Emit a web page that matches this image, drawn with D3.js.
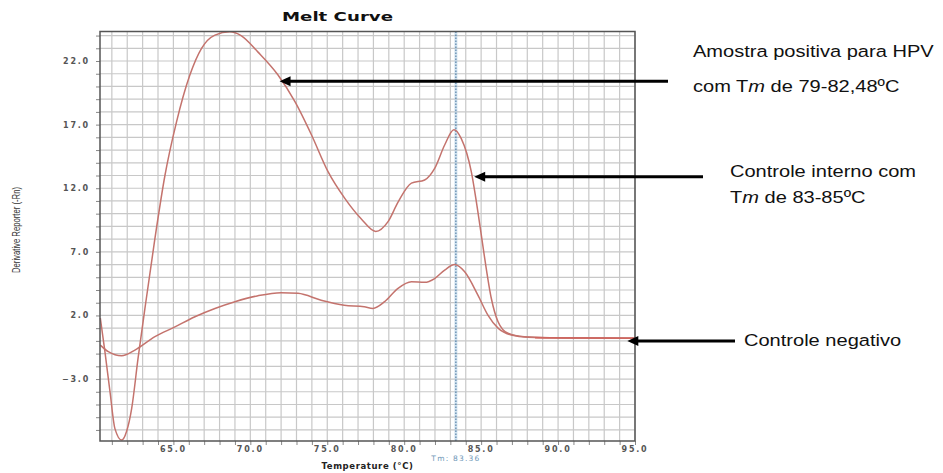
<!DOCTYPE html>
<html>
<head>
<meta charset="utf-8">
<script src="https://cdn.jsdelivr.net/npm/d3@7/dist/d3.min.js"></script>
<style>
  html, body { margin: 0; padding: 0; background: #fff; }
  svg { display: block; }
</style>
</head>
<body>
<svg id="chart" width="943" height="473"></svg>
<script>
// ---------- DATA ----------
const chartTitle = "Melt Curve";
const xAxisTitle = "Temperature (°C)";
const yAxisTitle = "Derivative Reporter (-Rn)";
const xTickValues = [65, 70, 75, 80, 85, 90, 95];
const yTickValues = [22, 17, 12, 7, 2, -3];
const tmValue = 83.36;
const tmLabel = "Tm: 83.36";

// Positive HPV sample
const posTemp  = [60.25, 60.55, 60.88, 61.2, 61.64, 61.96, 62.29, 62.7, 63.15, 63.8, 64.45, 65.2, 66.07, 66.83, 67.7, 68.67, 69.4, 70.5, 71.8, 72.9, 73.97, 75.05, 76.14, 77.2, 78.15, 78.95, 79.6, 80.47, 81.33, 81.98, 82.63, 83.23, 83.71, 84.36, 84.79, 85.23, 85.66, 86.1, 86.74, 87.8, 89.56, 92.0, 95.0];
const posValue = [1.8, -0.85, -4.0, -6.9, -7.8, -7.1, -5.3, -1.4, 2.55, 8.05, 13.0, 17.2, 20.9, 23.0, 24.04, 24.3, 24.0, 22.7, 20.9, 18.8, 16.2, 13.3, 11.2, 9.6, 8.6, 9.37, 10.9, 12.4, 12.65, 13.56, 15.4, 16.6, 15.9, 13.3, 10.15, 6.5, 3.35, 1.5, 0.6, 0.33, 0.25, 0.22, 0.2];

// Internal control
const ctrlTemp  = [60.25, 60.77, 61.64, 62.5, 63.8, 65.1, 66.4, 67.7, 69.0, 70.5, 72.0, 73.1, 74.6, 76.1, 77.4, 77.97, 78.73, 79.6, 80.47, 81.33, 81.98, 82.63, 83.28, 83.93, 84.79, 85.44, 86.1, 86.96, 88.04, 89.56, 92.0, 95.0];
const ctrlValue = [-0.33, -0.85, -1.17, -0.72, 0.33, 1.1, 1.9, 2.55, 3.08, 3.55, 3.79, 3.74, 3.2, 2.8, 2.68, 2.55, 3.08, 4.13, 4.65, 4.6, 4.9, 5.57, 6.0, 5.43, 3.6, 2.03, 1.0, 0.46, 0.28, 0.25, 0.22, 0.2];

// Negative control (flat tail)
const negTemp  = [88.5, 92.0, 95.0];
const negValue = [0.25, 0.22, 0.2];

// Annotations (arrow tip in data units, text lines)
const annotations = [
  { tipX: 71.9, tipY: 20.4, tailPx: 668, textX: 693, lines: [["Amostra positiva para HPV"], ["com T", "m", " de 79-82,48ºC"]], baselines: [57, 92] },
  { tipX: 84.55, tipY: 12.9, tailPx: 703, textX: 730, lines: [["Controle interno com"], ["T", "m", " de 83-85ºC"]], baselines: [177, 203] },
  { tipX: 94.5, tipY: 0.0, tailPx: 735, textX: 744, lines: [["Controle negativo"]], baselines: [346] }
];

// ---------- LAYOUT ----------
const plot = { left: 100, right: 635, top: 31.5, bottom: 441 };
const xDomain = [60.23, 95.0];
const yDomain = [-7.87, 24.32];
const curveColor = "#c4736d";

const svg = d3.select("#chart");
const x = d3.scaleLinear().domain(xDomain).range([plot.left, plot.right]);
const y = d3.scaleLinear().domain(yDomain).range([plot.bottom, plot.top]);

const gridX = d3.range(Math.ceil(xDomain[0]), Math.floor(xDomain[1]) + 1);
const gridY = d3.range(Math.ceil(yDomain[0]), Math.floor(yDomain[1]) + 1);

const g = svg.append("g");
g.append("rect").attr("x", plot.left).attr("y", plot.top)
  .attr("width", plot.right - plot.left).attr("height", plot.bottom - plot.top)
  .attr("fill", "#fff");

g.append("g").selectAll("line").data(gridX).join("line")
  .attr("x1", d => x(d)).attr("x2", d => x(d))
  .attr("y1", plot.top).attr("y2", plot.bottom)
  .attr("stroke", "#c8c8c8").attr("stroke-width", 1.2);
g.append("g").selectAll("line").data(gridY).join("line")
  .attr("x1", plot.left).attr("x2", plot.right)
  .attr("y1", d => y(d)).attr("y2", d => y(d))
  .attr("stroke", "#c8c8c8").attr("stroke-width", 1.2);

const xAxis = d3.axisBottom(x).tickValues(gridX).tickSize(4).tickFormat("");
svg.append("g").attr("transform", `translate(0,${plot.bottom})`).call(xAxis)
  .call(s => s.select(".domain").remove())
  .call(s => s.selectAll("line").attr("stroke", "#888"));
const yAxis = d3.axisLeft(y).tickValues(gridY).tickSize(4).tickFormat("");
svg.append("g").attr("transform", `translate(${plot.left},0)`).call(yAxis)
  .call(s => s.select(".domain").remove())
  .call(s => s.selectAll("line").attr("stroke", "#888"));

svg.append("g").selectAll("text").data(xTickValues).join("text")
  .attr("x", d => x(d)).attr("y", 452)
  .attr("text-anchor", "middle")
  .attr("font-family", "DejaVu Sans").attr("font-size", 8).attr("font-weight", "bold")
  .attr("letter-spacing", 1.8).attr("fill", "#555")
  .text(d => d3.format(".1f")(d));
svg.append("g").selectAll("text").data(yTickValues).join("text")
  .attr("x", 90).attr("y", d => y(d) + 3)
  .attr("text-anchor", "end")
  .attr("font-family", "DejaVu Sans").attr("font-size", 8).attr("font-weight", "bold")
  .attr("letter-spacing", 1.8).attr("fill", "#555")
  .text(d => d3.format(".1f")(d));

// Tm line
svg.append("line")
  .attr("x1", x(tmValue)).attr("x2", x(tmValue))
  .attr("y1", plot.top).attr("y2", plot.bottom)
  .attr("stroke", "#a9cbe3").attr("stroke-width", 3).attr("opacity", 0.5);
svg.append("line")
  .attr("x1", x(tmValue)).attr("x2", x(tmValue))
  .attr("y1", plot.top).attr("y2", plot.bottom)
  .attr("stroke", "#3f6f9a").attr("stroke-width", 1).attr("stroke-dasharray", "1.5,1.5");
svg.append("text")
  .attr("x", x(tmValue)).attr("y", 461).attr("text-anchor", "middle")
  .attr("font-family", "DejaVu Sans").attr("font-size", 7.5)
  .attr("letter-spacing", 1.2).attr("fill", "#6f97b8")
  .text(tmLabel);

// curves
const line = d3.line().x(d => x(d[0])).y(d => y(d[1])).curve(d3.curveMonotoneX);
const series = [
  { t: ctrlTemp, v: ctrlValue, c: curveColor },
  { t: posTemp, v: posValue, c: curveColor },
  { t: negTemp, v: negValue, c: "#cf665f" }
];
svg.append("g").selectAll("path").data(series).join("path")
  .attr("d", s => line(s.t.map((t, i) => [t, s.v[i]])))
  .attr("fill", "none").attr("stroke", s => s.c).attr("stroke-width", 1.5);

// frame
svg.append("rect").attr("x", plot.left).attr("y", plot.top)
  .attr("width", plot.right - plot.left).attr("height", plot.bottom - plot.top)
  .attr("fill", "none").attr("stroke", "#555").attr("stroke-width", 1.5);

// titles
svg.append("text").attr("x", 282).attr("y", 21)
  .attr("font-family", "DejaVu Sans").attr("font-weight", "bold").attr("font-size", 13)
  .attr("textLength", 111).attr("lengthAdjust", "spacingAndGlyphs").attr("fill", "#111")
  .text(chartTitle);
svg.append("text").attr("x", (plot.left + plot.right) / 2).attr("y", 469)
  .attr("text-anchor", "middle")
  .attr("font-family", "DejaVu Sans").attr("font-weight", "bold").attr("font-size", 8.5)
  .attr("letter-spacing", 0.6).attr("fill", "#222")
  .text(xAxisTitle);
svg.append("text").attr("transform", "translate(20,230) rotate(-90)")
  .attr("text-anchor", "middle")
  .attr("font-family", "Liberation Sans").attr("font-size", 10.5)
  .attr("textLength", 86).attr("lengthAdjust", "spacingAndGlyphs").attr("fill", "#333")
  .text(yAxisTitle);

// annotations
const ann = svg.append("g");
annotations.forEach(a => {
  const tx = x(a.tipX), ty = y(a.tipY);
  ann.append("line").attr("x1", a.tailPx).attr("x2", tx + 9).attr("y1", ty).attr("y2", ty)
    .attr("stroke", "#000").attr("stroke-width", 3);
  ann.append("path")
    .attr("d", `M${tx},${ty} L${tx + 11},${ty - 5} L${tx + 11},${ty + 5} Z`)
    .attr("fill", "#000");
  a.lines.forEach((parts, i) => {
    const t = ann.append("text")
      .attr("transform", `translate(${a.textX},${a.baselines[i]}) scale(1.18,1)`)
      .attr("font-family", "Liberation Sans, Arial, sans-serif").attr("font-size", 17)
      .attr("fill", "#111");
    parts.forEach((p, j) => {
      t.append("tspan").attr("font-style", (parts.length > 1 && j === 1) ? "italic" : "normal").text(p);
    });
  });
});
</script>
</body>
</html>
